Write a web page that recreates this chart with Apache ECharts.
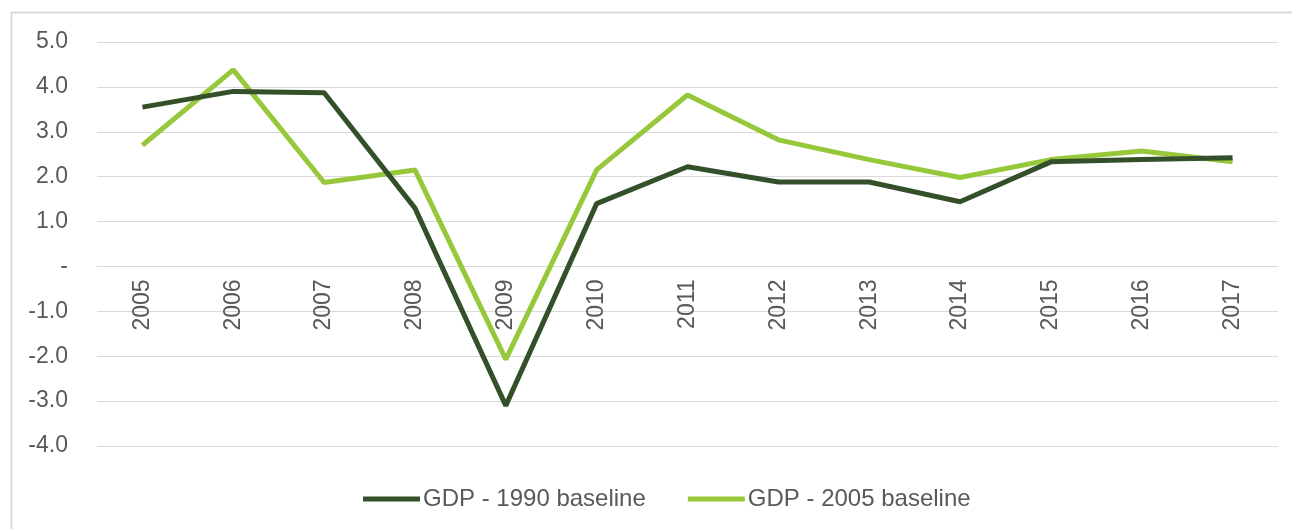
<!DOCTYPE html>
<html>
<head>
<meta charset="utf-8">
<script src="https://cdn.jsdelivr.net/npm/echarts@6/dist/echarts.min.js"></script>
<style>
  html, body { margin: 0; padding: 0; background: #ffffff; }
  #chart { width: 1292px; height: 529px; }
</style>
</head>
<body>
<div id="chart"></div>
<script>
// Annual GDP growth (%), two baselines
const years = ['2005','2006','2007','2008','2009','2010','2011','2012','2013','2014','2015','2016','2017'];
const gdp1990 = [3.55, 3.9, 3.87, 1.3, -3.1, 1.4, 2.22, 1.88, 1.88, 1.44, 2.33, 2.38, 2.42];
const gdp2005 = [2.7, 4.38, 1.87, 2.15, -2.07, 2.15, 3.82, 2.82, 2.38, 1.98, 2.38, 2.57, 2.33];

const seriesNames = ['GDP - 1990 baseline', 'GDP - 2005 baseline'];
const seriesColors = ['#34502a', '#97c83c'];

const chart = echarts.init(document.getElementById('chart'), null, { renderer: 'canvas' });

const font = 'Liberation Sans, Arial, sans-serif';
const textColor = '#595959';

// Plot area geometry used to place the category axis on the zero line
const gridTop = 42;
const gridBottom = 83;
const yMin = -4;
const yMax = 5;
const plotHeight = 529 - gridTop - gridBottom;
const zeroOffset = -plotHeight * (0 - yMin) / (yMax - yMin);

chart.setOption({
  animation: false,
  backgroundColor: '#ffffff',
  graphic: [{
    type: 'rect',
    shape: { x: 11.5, y: 12.5, width: 1400, height: 700 },
    style: { fill: 'none', stroke: '#d9d9d9', lineWidth: 2 },
    silent: true
  }],
  grid: { left: 97, right: 14, top: gridTop, bottom: gridBottom, containLabel: false },
  legend: {
    top: 482,
    left: 358,
    itemWidth: 57,
    itemHeight: 5,
    itemGap: 42,
    icon: 'rect',
    textStyle: { fontFamily: font, fontSize: 24, color: textColor, padding: [0, 0, 0, -2] },
    data: seriesNames
  },
  xAxis: {
    type: 'category',
    data: years,
    boundaryGap: true,
    offset: zeroOffset,
    axisLine: { onZero: false, lineStyle: { color: '#d9d9d9', width: 1 } },
    axisTick: { show: false },
    axisLabel: { fontFamily: font, fontSize: 23, color: textColor, rotate: 90, margin: 13 },
    splitLine: { show: false }
  },
  yAxis: {
    type: 'value',
    min: yMin,
    max: yMax,
    interval: 1,
    axisLine: { show: false },
    axisTick: { show: false },
    axisLabel: {
      fontFamily: font, fontSize: 23, color: textColor,
      margin: 29,
      formatter: v => (v === 0 ? '-' : v.toFixed(1))
    },
    splitLine: { lineStyle: { color: '#d9d9d9', width: 1 } }
  },
  series: [
    {
      name: seriesNames[0],
      type: 'line',
      data: gdp1990,
      symbol: 'none',
      color: seriesColors[0],
      lineStyle: { width: 5, color: seriesColors[0] },
      z: 3
    },
    {
      name: seriesNames[1],
      type: 'line',
      data: gdp2005,
      symbol: 'none',
      color: seriesColors[1],
      lineStyle: { width: 5, color: seriesColors[1] },
      z: 2
    }
  ]
});
</script>
</body>
</html>
